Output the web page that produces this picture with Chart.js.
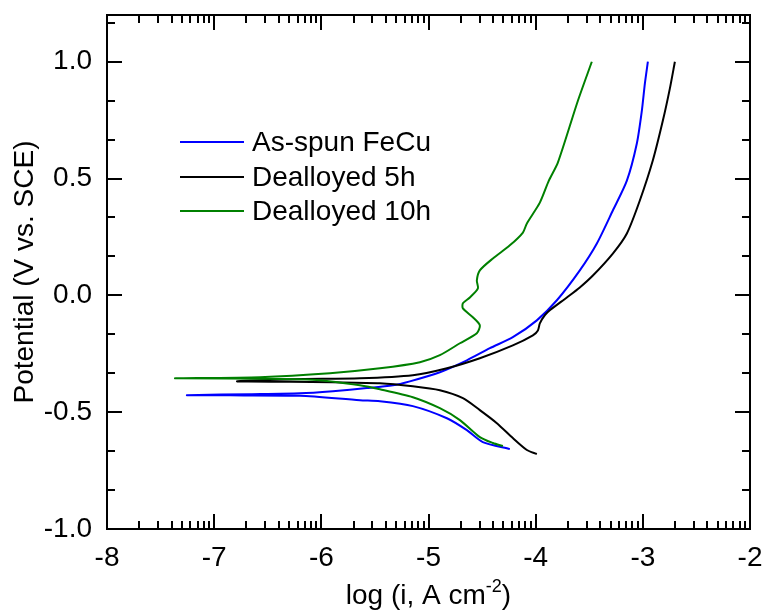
<!DOCTYPE html>
<html>
<head>
<meta charset="utf-8">
<script src="https://cdn.jsdelivr.net/npm/chart.js@4.4.1/dist/chart.umd.min.js"></script>
<style>
  html, body { margin: 0; padding: 0; background: #fff; }
  #wrap { width: 766px; height: 615px; }
</style>
</head>
<body>
<div id="wrap"><canvas id="c" width="766" height="615"></canvas></div>
<script>
// Tafel curves, each traced cathodic end -> Ecorr -> anodic end.
// x = log(i / A cm^-2), y = potential (V vs. SCE)
const asSpunLogI = [-4.241, -4.493, -4.642, -4.828, -5.146, -5.453, -5.640, -6.200, -6.853, -7.254,
  -6.666, -6.200, -5.892, -5.575, -5.332, -5.174, -4.894, -4.642, -4.427, -4.213, -3.989, -3.802,
  -3.588, -3.429, -3.280, -3.149, -3.056, -3.009, -2.981, -2.953];
const asSpunE = [-0.658, -0.628, -0.577, -0.526, -0.474, -0.453, -0.449, -0.430, -0.428, -0.427,
  -0.423, -0.419, -0.410, -0.397, -0.385, -0.368, -0.329, -0.278, -0.226, -0.179, -0.107, -0.021,
  0.107, 0.222, 0.363, 0.491, 0.650, 0.791, 0.906, 1.0];

const deal5LogI = [-3.989, -4.082, -4.213, -4.362, -4.521, -4.679, -4.894, -5.146, -5.453, -5.892,
  -6.293, -6.787, -6.265, -5.640, -5.146, -4.828, -4.521, -4.213, -4.026, -3.979, -3.961, -3.914,
  -3.868, -3.709, -3.588, -3.466, -3.280, -3.149, -3.028, -2.907, -2.813, -2.748, -2.701];
const deal5E = [-0.679, -0.662, -0.611, -0.547, -0.491, -0.440, -0.406, -0.389, -0.376, -0.372,
  -0.370, -0.368, -0.359, -0.355, -0.342, -0.312, -0.269, -0.214, -0.171, -0.150, -0.120, -0.085,
  -0.064, -0.009, 0.034, 0.085, 0.179, 0.265, 0.406, 0.577, 0.748, 0.885, 1.0];

const deal10LogI = [-4.306, -4.399, -4.521, -4.707, -4.894, -5.146, -5.453, -5.640, -6.013, -6.479,
  -7.366, -6.573, -5.920, -5.453, -5.080, -4.894, -4.707, -4.549, -4.521, -4.586, -4.679, -4.679,
  -4.614, -4.539, -4.549, -4.521, -4.399, -4.241, -4.119, -4.082, -3.961, -3.877, -3.793, -3.606, -3.476];
const deal10E = [-0.645, -0.632, -0.607, -0.534, -0.483, -0.436, -0.402, -0.385, -0.363, -0.357,
  -0.355, -0.350, -0.333, -0.312, -0.286, -0.256, -0.205, -0.162, -0.128, -0.094, -0.056, -0.034,
  -0.009, 0.030, 0.064, 0.107, 0.158, 0.214, 0.269, 0.308, 0.397, 0.491, 0.568, 0.833, 1.0];

const seriesLabels = ['As-spun FeCu', 'Dealloyed 5h', 'Dealloyed 10h'];
const seriesColors = ['#0000ff', '#000000', '#008000'];
const xTickValues = [-8, -7, -6, -5, -4, -3, -2];
const yTickValues = [-1.0, -0.5, 0.0, 0.5, 1.0];

const FONT = "'Liberation Sans', Arial, sans-serif";
const pts = (xs, ys) => xs.map((x, i) => ({ x, y: ys[i] }));
// keep the plot box where the layout padding puts it
const noEdgePad = (s) => { s.paddingTop = 0; s.paddingBottom = 0; s.paddingLeft = 0; s.paddingRight = 0; };

// frame, inward ticks (log minors on x), legend and x title
const decor = {
  id: 'decor',
  afterDatasetsDraw(chart) {
    const { ctx, chartArea: a, scales: { x, y } } = chart;
    ctx.save();
    ctx.strokeStyle = '#000';
    ctx.lineWidth = 2;
    ctx.strokeRect(a.left, a.top, a.right - a.left, a.bottom - a.top);
    ctx.beginPath();
    for (let d = x.min; d < x.max; d++) {
      for (let k = 1; k <= 10; k++) {
        const px = Math.round(x.getPixelForValue(d + Math.log10(k)));
        const len = (k === 1 || k === 10) ? 15 : 8;
        ctx.moveTo(px, a.bottom); ctx.lineTo(px, a.bottom - len);
        ctx.moveTo(px, a.top); ctx.lineTo(px, a.top + len);
      }
    }
    for (let i = -6; i / 6 <= y.max; i++) {
      const py = Math.round(y.getPixelForValue(i / 6));
      const len = i % 3 === 0 ? 15 : 8;
      ctx.moveTo(a.left, py); ctx.lineTo(a.left + len, py);
      ctx.moveTo(a.right, py); ctx.lineTo(a.right - len, py);
    }
    ctx.stroke();

    // legend
    ctx.font = `28px ${FONT}`;
    ctx.textBaseline = 'middle';
    ctx.textAlign = 'left';
    ctx.fillStyle = '#000';
    const rows = [142, 177, 211];
    seriesLabels.forEach((lab, i) => {
      ctx.strokeStyle = seriesColors[i];
      ctx.beginPath();
      ctx.moveTo(180, rows[i]); ctx.lineTo(244, rows[i]);
      ctx.stroke();
      ctx.fillText(lab, 252, rows[i] + 1);
    });

    // x title with superscript
    const main = 'log (i, A cm', sup = '-2', tail = ')';
    ctx.textBaseline = 'alphabetic';
    ctx.font = `28px ${FONT}`;
    const w1 = ctx.measureText(main).width, w3 = ctx.measureText(tail).width;
    ctx.font = `18px ${FONT}`;
    const w2 = ctx.measureText(sup).width;
    let tx = (a.left + a.right) / 2 - (w1 + w2 + w3) / 2;
    const by = 604;
    ctx.font = `28px ${FONT}`;
    ctx.fillText(main, tx, by); tx += w1;
    ctx.font = `18px ${FONT}`;
    ctx.fillText(sup, tx, by - 12); tx += w2;
    ctx.font = `28px ${FONT}`;
    ctx.fillText(tail, tx, by);
    ctx.restore();
  },
};

new Chart(document.getElementById('c'), {
  type: 'scatter',
  data: {
    datasets: [
      { label: seriesLabels[0], data: pts(asSpunLogI, asSpunE), borderColor: seriesColors[0], order: 2 },
      { label: seriesLabels[1], data: pts(deal5LogI, deal5E), borderColor: seriesColors[1], order: 1 },
      { label: seriesLabels[2], data: pts(deal10LogI, deal10E), borderColor: seriesColors[2], order: 0 },
    ].map((d) => ({ ...d, showLine: true, pointRadius: 0, borderWidth: 2, tension: 0.25, fill: false })),
  },
  options: {
    responsive: false,
    animation: false,
    layout: { padding: { top: 15, right: 16, left: 0, bottom: 0 } },
    plugins: { legend: { display: false }, tooltip: { enabled: false } },
    scales: {
      x: {
        type: 'linear', min: -8, max: -2,
        grid: { display: false, drawTicks: false },
        border: { display: false },
        afterBuildTicks: (s) => { s.ticks = xTickValues.map((value) => ({ value })); },
        ticks: { font: { family: FONT, size: 28 }, color: '#000', padding: 12, maxRotation: 0, autoSkip: false },
        afterFit: (s) => { s.height = 86; noEdgePad(s); },
      },
      y: {
        type: 'linear', min: -1, max: 1.2,
        grid: { display: false, drawTicks: false },
        border: { display: false },
        afterBuildTicks: (s) => { s.ticks = yTickValues.map((value) => ({ value })); },
        ticks: { font: { family: FONT, size: 28 }, color: '#000', padding: 15, callback: (v) => v.toFixed(1) },
        title: { display: true, text: 'Potential (V vs. SCE)', font: { family: FONT, size: 28 }, color: '#000', padding: { top: 8, bottom: 0 } },
        afterFit: (s) => { s.width = 107; noEdgePad(s); },
      },
    },
  },
  plugins: [decor],
});
</script>
</body>
</html>
